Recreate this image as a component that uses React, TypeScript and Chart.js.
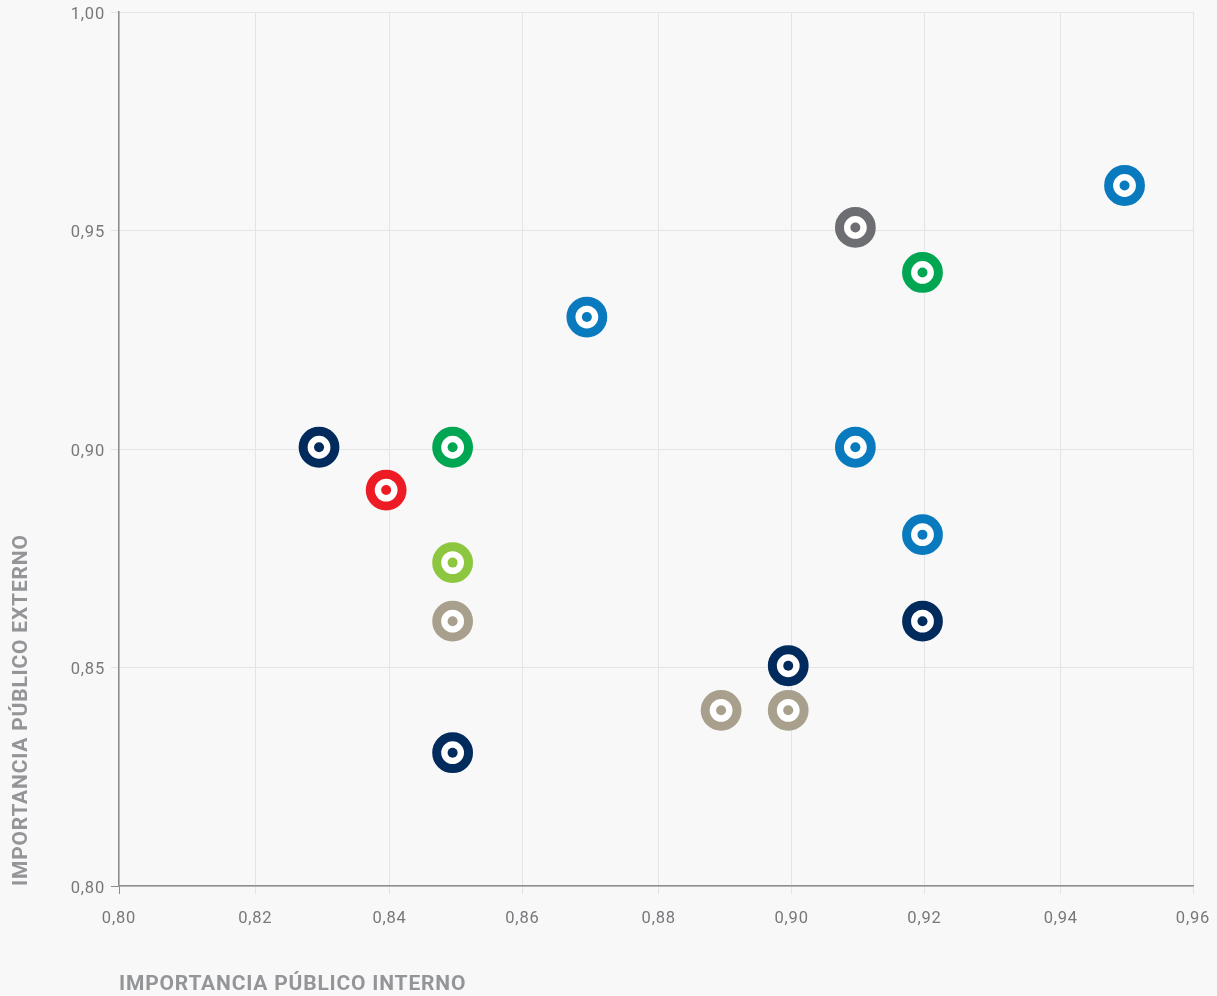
import React, { useEffect, useRef } from "react";
import { Chart, registerables } from "chart.js";

Chart.register(...registerables);

const xTickValues = [0.8, 0.8203, 0.8403, 0.8601, 0.8804, 0.9002, 0.92, 0.9403, 0.96];
const yTickValues = [0.8, 0.85, 0.9, 0.95, 1.0];
const xTickLabels = ["0,80", "0,82", "0,84", "0,86", "0,88", "0,90", "0,92", "0,94", "0,96"];
const yTickLabels = ["0,80", "0,85", "0,90", "0,95", "1,00"];

const interno = [0.8298, 0.8398, 0.8497, 0.8497, 0.8497, 0.8497, 0.8697, 0.8897, 0.8997, 0.8997, 0.9097, 0.9097, 0.9197, 0.9197, 0.9197, 0.9498];
const externo = [0.9004, 0.8906, 0.9004, 0.874, 0.8606, 0.8305, 0.9302, 0.8402, 0.8504, 0.8402, 0.9507, 0.9004, 0.9404, 0.8804, 0.8606, 0.9603];
const colores = ["#002b5c", "#ed1c24", "#00a651", "#8dc63f", "#a8a08c", "#002b5c", "#0a7abf", "#a8a08c", "#002b5c", "#a8a08c", "#6d6e71", "#0a7abf", "#00a651", "#0a7abf", "#002b5c", "#0a7abf"];

const puntos = interno.map((x, i) => ({ x, y: externo[i] }));
const GRID = "#e4e4e4";
const AXIS = "#8a8c8e";
const FONT = "Roboto";

export default function App() {
  const ref = useRef<HTMLCanvasElement>(null);
  useEffect(() => {
    const chart = new Chart(ref.current!, {
      type: "scatter",
      data: {
        datasets: [
          {
            label: "centro",
            data: puntos,
            backgroundColor: colores,
            borderWidth: 0,
            pointRadius: 5,
            pointHoverRadius: 5,
            order: 1,
          },
          {
            label: "anillo",
            data: puntos,
            backgroundColor: "#ffffff",
            borderColor: colores,
            borderWidth: 9,
            pointRadius: 15.9,
            pointHoverRadius: 15.9,
            order: 2,
          },
        ],
      },
      options: {
        animation: false,
        responsive: false,
        maintainAspectRatio: false,
        layout: { autoPadding: false, padding: { top: 12, right: 24, left: 0, bottom: 0 } },
        plugins: { legend: { display: false }, tooltip: { enabled: false } },
        scales: {
          x: {
            type: "linear",
            min: 0.8,
            max: 0.96,
            afterBuildTicks: (s: any) => {
              s.ticks = xTickValues.map((value) => ({ value }));
            },
            afterFit: (s: any) => {
              s.height = 110;
              s.paddingLeft = 0;
              s.paddingRight = 0;
            },
            grid: {
              color: GRID,
              tickColor: (c: any) => (c.index === 0 ? AXIS : GRID),
              tickLength: 8,
            },
            border: { display: true, color: AXIS, width: 1.5 },
            ticks: {
              autoSkip: false,
              maxRotation: 0,
              padding: 15,
              color: "#77787b",
              font: { family: FONT, size: 16.5 },
              callback: (_v: any, i: number) => xTickLabels[i],
            },
            title: {
              display: true,
              text: "IMPORTANCIA PÚBLICO INTERNO",
              align: "start",
              color: "#939598",
              font: { family: FONT, size: 21, weight: "bold" },
              padding: { top: 0, bottom: -1 },
            },
          },
          y: {
            type: "linear",
            min: 0.8,
            max: 1.0,
            afterBuildTicks: (s: any) => {
              s.ticks = yTickValues.map((value) => ({ value }));
            },
            afterFit: (s: any) => {
              s.width = 119;
              s.paddingTop = 0;
              s.paddingBottom = 0;
            },
            grid: {
              color: GRID,
              tickColor: (c: any) => (c.index === 0 ? AXIS : GRID),
              tickLength: 8,
            },
            border: { display: true, color: AXIS, width: 1.5 },
            ticks: {
              autoSkip: false,
              padding: 6,
              labelOffset: 2.5,
              color: "#77787b",
              font: { family: FONT, size: 16.5 },
              callback: (_v: any, i: number) => yTickLabels[i],
            },
            title: {
              display: true,
              text: "IMPORTANCIA PÚBLICO EXTERNO",
              align: "start",
              color: "#939598",
              font: { family: FONT, size: 21, weight: "bold" },
              padding: { top: 9, bottom: 0 },
            },
          },
        },
      },
      plugins: [
        {
          id: "spacing",
          beforeDraw: (c: any) => {
            c.ctx.letterSpacing = "0.8px";
          },
        },
      ],
    } as any);
    return () => chart.destroy();
  }, []);
  return (
    <div style={{ position: "fixed", left: 0, top: 0, width: 1217, height: 996, background: "#f8f8f8" }}>
      <canvas ref={ref} width={1217} height={996} style={{ display: "block" }} />
    </div>
  );
}
